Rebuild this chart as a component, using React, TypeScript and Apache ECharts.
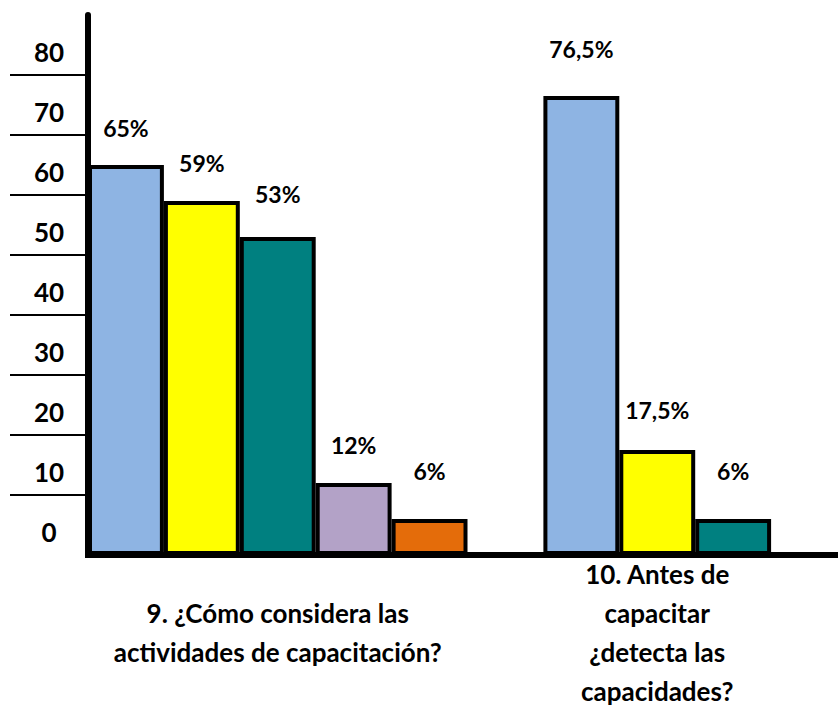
import React, { useEffect, useRef } from "react";
import * as echarts from "echarts";

// Question labels (x axis)
const questionLabels = [
  "9. ¿Cómo considera las\nactividades de capacitación?",
  "10. Antes de\ncapacitar\n¿detecta las\ncapacidades?",
];
// Series values (percent)
const q9Values = [65, 59, 53, 12, 6];
const q10Values = [76.5, 17.5, 6];
// Bar colours
const q9Colors = ["#8EB4E3", "#FFFF00", "#008080", "#B3A2C7", "#E46C0A"];
const q10Colors = ["#8EB4E3", "#FFFF00", "#008080"];
// Label distances above bars (style)
const q9LabelDist = [25, 26, 31, 26, 36];
const q10LabelDist = [35, 28, 36];
// Y axis tick labels
const yTickValues = [0, 10, 20, 30, 40, 50, 60, 70, 80];
const yTickMarks = [10, 20, 30, 40, 50, 60, 70, 80];

const FONT = "Lato";

export default function App() {
  const ref = useRef<HTMLDivElement>(null);
  useEffect(() => {
    if (!ref.current) return;
    const chart = echarts.init(ref.current, undefined, { renderer: "svg" });

    // Slots: five bars of Q9, an empty slot, three bars of Q10, an empty slot
    const slotIds: string[] = [];
    const data: any[] = [];
    q9Values.forEach((v, i) => {
      slotIds.push("q9-" + i);
      data.push({ value: v, itemStyle: { color: q9Colors[i] }, label: { distance: q9LabelDist[i] } });
    });
    slotIds.push("gap-1");
    data.push(null);
    q10Values.forEach((v, i) => {
      slotIds.push("q10-" + i);
      data.push({ value: v, itemStyle: { color: q10Colors[i] }, label: { distance: q10LabelDist[i] } });
    });
    slotIds.push("gap-2");
    data.push(null);

    const q9Center = "q9-" + Math.floor(q9Values.length / 2);
    const q10Center = "q10-" + Math.floor(q10Values.length / 2);

    chart.setOption({
      animation: false,
      backgroundColor: "#ffffff",
      grid: { left: 88, right: -9, top: 15, bottom: 152, outerBoundsMode: "none", containLabel: false },
      xAxis: {
        type: "category",
        data: slotIds,
        axisLine: { show: true, lineStyle: { color: "#000", width: 6, cap: "square" } },
        axisTick: { show: false },
        axisLabel: {
          interval: 0,
          margin: 77,
          verticalAlign: "middle",
          lineHeight: 39,
          fontSize: 26,
          fontWeight: "bold",
          fontFamily: FONT,
          color: "#000",
          formatter: (v: string) =>
            v === q9Center ? questionLabels[0] : v === q10Center ? questionLabels[1] : "",
        },
      },
      yAxis: {
        type: "value",
        min: 0,
        max: 90,
        interval: 10,
        splitLine: { show: false },
        axisLine: { show: true, lineStyle: { color: "#000", width: 6 } },
        axisTick: {
          show: true,
          customValues: yTickMarks,
          length: 78,
          lineStyle: { color: "#000", width: 2 },
        },
        axisLabel: {
          customValues: yTickValues,
          align: "center",
          verticalAlign: "bottom",
          margin: 39,
          padding: [0, 0, 10, 0],
          lineHeight: 26,
          fontSize: 26,
          fontWeight: "bold",
          fontFamily: FONT,
          color: "#000",
        },
      },
      series: [
        {
          type: "bar",
          data,
          barWidth: "100%",
          barCategoryGap: "0%",
          itemStyle: { borderColor: "#000", borderWidth: 4 },
          label: {
            show: true,
            position: "top",
            fontSize: 23,
            lineHeight: 24,
            fontWeight: "bold",
            fontFamily: FONT,
            color: "#000",
            formatter: (p: any) => String(p.value).replace(".", ",") + "%",
          },
        },
      ],
    });
    return () => chart.dispose();
  }, []);
  return (
    <div
      ref={ref}
      style={{ position: "fixed", left: 0, top: 0, width: 838, height: 707, background: "#fff" }}
    />
  );
}
